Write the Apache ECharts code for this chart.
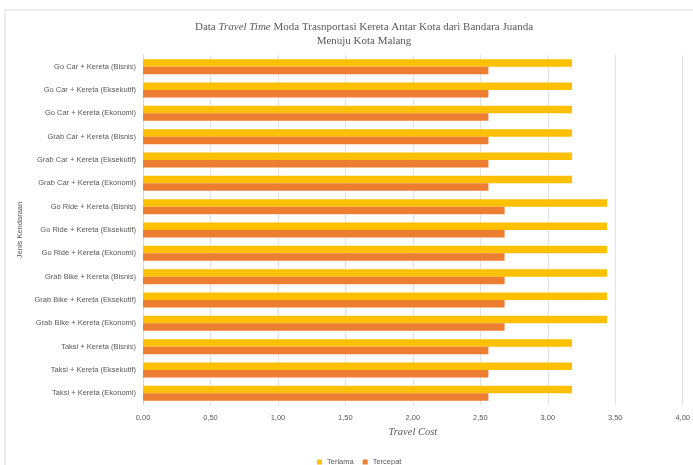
<!DOCTYPE html>
<html><head><meta charset="utf-8">
<script src="https://cdn.jsdelivr.net/npm/echarts@6/dist/echarts.min.js"></script>
<style>html,body{margin:0;padding:0;background:#fff}#c{width:693px;height:465px}</style>
</head><body><div id="c"></div>
<script>
const categories = [
  "Go Car + Kereta (Bisnis)",
  "Go Car + Kereta (Eksekutif)",
  "Go Car + Kereta (Ekonomi)",
  "Grab Car + Kereta (Bisnis)",
  "Grab Car + Kereta (Eksekutif)",
  "Grab Car + Kereta (Ekonomi)",
  "Go Ride + Kereta (Bisnis)",
  "Go Ride + Kereta (Eksekutif)",
  "Go Ride + Kereta (Ekonomi)",
  "Grab Bike + Kereta (Bisnis)",
  "Grab Bike + Kereta (Eksekutif)",
  "Grab Bike + Kereta (Ekonomi)",
  "Taksi + Kereta (Bisnis)",
  "Taksi + Kereta (Eksekutif)",
  "Taksi + Kereta (Ekonomi)"
];
const terlama = [3.18,3.18,3.18,3.18,3.18,3.18,3.44,3.44,3.44,3.44,3.44,3.44,3.18,3.18,3.18];
const tercepat = [2.56,2.56,2.56,2.56,2.56,2.56,2.68,2.68,2.68,2.68,2.68,2.68,2.56,2.56,2.56];

const chart = echarts.init(document.getElementById('c'));
chart.setOption({
  animation:false,
  graphic:[{type:'rect',shape:{x:5,y:10,width:720,height:480},style:{fill:'none',stroke:'#ececec',lineWidth:2},silent:true}],
  title:{
    text:'{n|Data }{i|Travel Time}{n| Moda Trasnportasi Kereta Antar Kota dari Bandara Juanda}\n{n|Menuju Kota Malang}',
    left:359, textAlign:'center', top:15,
    textStyle:{fontWeight:'normal',rich:{
      n:{fontFamily:'Liberation Serif',fontSize:11,fontWeight:'normal',color:'#595959',lineHeight:14},
      i:{fontFamily:'Liberation Serif',fontSize:11,fontWeight:'normal',fontStyle:'italic',color:'#595959',lineHeight:14}
    }}
  },
  legend:{
    top:453, left:312, itemWidth:5, itemHeight:5, itemGap:9,
    icon:'rect',
    textStyle:{fontFamily:'Liberation Sans',fontSize:7.5,color:'#595959'},
    data:['Terlama','Tercepat']
  },
  grid:{left:143,right:10,top:55,bottom:60},
  xAxis:{
    type:'value', min:0, max:4, interval:0.5,
    name:'Travel Cost', nameLocation:'middle', nameGap:22,
    nameTextStyle:{fontFamily:'Liberation Serif',fontStyle:'italic',fontSize:10.5,color:'#595959'},
    axisLine:{show:false}, axisTick:{show:false},
    axisLabel:{fontFamily:'Liberation Sans',fontSize:7.5,color:'#595959',margin:9,
      formatter:v=>v.toFixed(2).replace('.',',')},
    splitLine:{lineStyle:{color:'#e2e2e2',width:1}}
  },
  yAxis:{
    type:'category', data:categories, inverse:true,
    name:'Jenis Kendaraan', nameLocation:'middle', nameGap:112, nameRotate:90,
    nameTextStyle:{fontFamily:'Liberation Sans',fontSize:7.5,color:'#595959'},
    axisLine:{lineStyle:{color:'#d9d9d9'}}, axisTick:{show:false},
    axisLabel:{fontFamily:'Liberation Sans',fontSize:7.5,color:'#595959',margin:7}
  },
  series:[
    {name:'Terlama',type:'bar',data:terlama,itemStyle:{color:'#FFC000'},barGap:'0%',barCategoryGap:'36%'},
    {name:'Tercepat',type:'bar',data:tercepat,itemStyle:{color:'#ED7D31'},barGap:'0%',barCategoryGap:'36%'}
  ]
});
</script></body></html>
